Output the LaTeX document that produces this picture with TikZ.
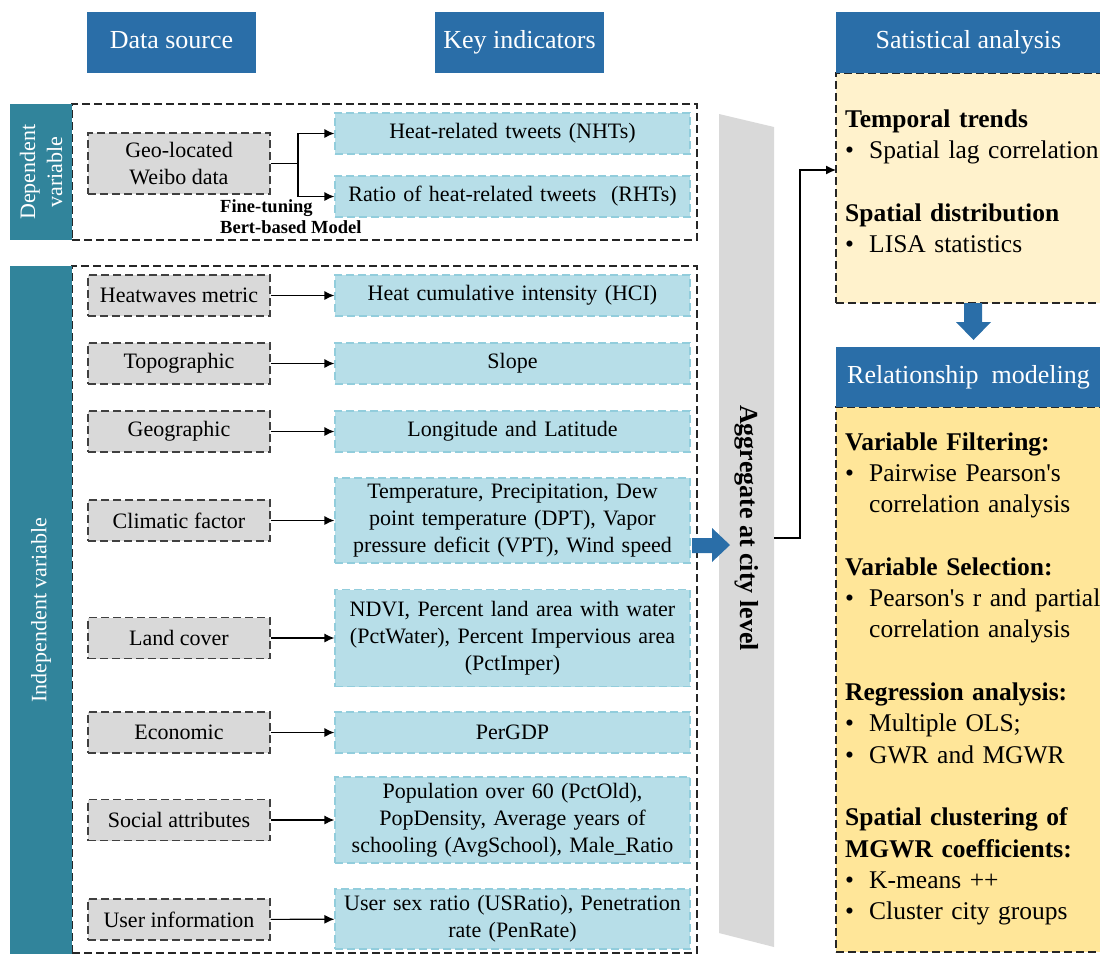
\documentclass[tikz,border=0pt]{standalone}
\usepackage{fontspec}
\setmainfont{Liberation Serif}
\usetikzlibrary{arrows.meta}

\definecolor{hdrblue}{RGB}{42,110,168}
\definecolor{barteal}{RGB}{49,132,155}
\definecolor{indblue}{RGB}{183,222,232}
\definecolor{indline}{RGB}{146,205,220}
\definecolor{srcgray}{RGB}{217,217,217}
\definecolor{paleyellow}{RGB}{255,242,204}
\definecolor{deepyellow}{RGB}{255,230,153}

\newcommand{\blt}{\par\noindent\makebox[24pt][l]{\textbullet}}
\newcommand{\cont}{\\\hspace*{24pt}}

\tikzset{
  hdr/.style={fill=hdrblue, text=white, font=\fontsize{26}{31}\selectfont, minimum height=61pt, inner sep=0pt, text height=18pt, text depth=6pt},
  src/.style={draw=black!75, dash pattern=on 8pt off 4pt, fill=srcgray, line width=1.2pt, minimum width=182pt, minimum height=41pt, font=\fontsize{22}{27}\selectfont, align=center, inner sep=0pt},
  ind/.style={draw=indline, dash pattern=on 8pt off 4pt, fill=indblue, line width=1.2pt, minimum width=355pt, minimum height=41pt, font=\fontsize{22}{27}\selectfont, align=center, text width=350pt, inner sep=0pt},
  frame/.style={draw=black!85, dash pattern=on 8pt off 4pt, line width=1.2pt, inner sep=0pt},
  vbar/.style={fill=barteal, text=white, font=\fontsize{22}{27}\selectfont, align=center, inner sep=0pt},
  blocktext/.style={anchor=north west, text width=300pt, inner sep=0pt, font=\fontsize{25.5}{31.3}\selectfont},
  link/.style={-{Latex[length=10pt,width=9pt]}, line width=1.2pt},
}

\begin{document}
\begin{tikzpicture}[x=1pt, y=-1pt]
	\useasboundingbox (0,0) rectangle (1100,954);

	% column headers
	\node[hdr, minimum width=169pt] (srchdr) at (171.5,42.5) {Data source};
	\node[hdr, minimum width=169pt] (keyhdr) at (519.5,42.5) {Key indicators};

	% dependent variable
	\node[frame, minimum width=625pt, minimum height=136pt] (depframe) at (384.5,172) {};
	\node[vbar, rotate=90, minimum width=136pt, minimum height=62pt] (depbar) at (41,172) {Dependent\\variable};
	\node[src, minimum height=61pt] (weibo) at (179,163.5) {Geo-located\\Weibo data};
	\node[ind] (nht) at (512.5,133.5) {Heat-related tweets (NHTs)};
	\node[ind] (rht) at (512.5,196.5) {Ratio of heat-related tweets\ \ (RHTs)};
	\node[anchor=north west, align=left, inner sep=0pt, font=\bfseries\fontsize{18.5}{21}\selectfont] (bert) at (220,197.3) {\strut Fine-tuning\\Bert-based Model};
	\coordinate (split) at (298,163.5);
	\draw[line width=1.2pt] (weibo) -- (split);
	\draw[link] (split) |- (nht);
	\draw[link] (split) |- (rht);

	% independent variable
	\node[frame, minimum width=625pt, minimum height=687pt] (indframe) at (384.5,609.5) {};
	\node[vbar, rotate=90, minimum width=688pt, minimum height=62pt] (indbar) at (41,610) {Independent variable};

	\node[src] (heat) at (179,295.5) {Heatwaves metric};
	\node[ind] (hci) at (512.5,295.5) {Heat cumulative intensity (HCI)};
	\node[src] (topo) at (179,363.5) {Topographic};
	\node[ind] (slope) at (512.5,363.5) {Slope};
	\node[src] (geo) at (179,431.5) {Geographic};
	\node[ind] (lonlat) at (512.5,431.5) {Longitude and Latitude};
	\node[src] (clim) at (179,520.5) {Climatic factor};
	\node[ind, minimum height=85pt] (climvar) at (512.5,520.5) {Temperature, Precipitation, Dew\\point temperature (DPT), Vapor\\pressure deficit (VPT), Wind speed};
	\node[src] (land) at (179,638) {Land cover};
	\node[ind, minimum height=97pt] (landvar) at (512.5,638) {NDVI, Percent land area with water\\(PctWater), Percent Impervious area\\(PctImper)};
	\node[src] (econ) at (179,732.5) {Economic};
	\node[ind] (gdp) at (512.5,732.5) {PerGDP};
	\node[src] (social) at (179,820) {Social attributes};
	\node[ind, minimum height=86pt] (socvar) at (512.5,820) {Population over 60 (PctOld),\\PopDensity, Average years of\\schooling (AvgSchool), Male\_Ratio};
	\node[src] (user) at (179,919.5) {User information};
	\node[ind, minimum height=60pt] (uservar) at (512.5,919) {User sex ratio (USRatio), Penetration\\rate (PenRate)};

	\foreach \a/\b in {heat/hci, topo/slope, geo/lonlat, clim/climvar, land/landvar, econ/gdp, social/socvar, user/uservar}
		\draw[link] (\a) -- (\b);

	% aggregation band
	\fill[srcgray] (719,114) -- (774,127) -- (774,947) -- (719,933) -- cycle;
	\node[rotate=-90, inner sep=0pt, font=\bfseries\fontsize{26}{31}\selectfont] (aggr) at (746.5,528) {Aggregate at city level};
	\fill[hdrblue] (692,538) -- (712,538) -- (712,528) -- (730,545) -- (712,562) -- (712,553) -- (692,553) -- cycle;

	% analysis panels
	\node[frame, fill=paleyellow, minimum width=265pt, minimum height=230pt] (statbox) at (968.5,188) {};
	\node[frame, fill=deepyellow, minimum width=265pt, minimum height=545pt] (relbox) at (968.5,679.5) {};
	\node[hdr, minimum width=265pt] (stathdr) at (968.5,42.5) {Satistical analysis};
	\node[hdr, minimum width=265pt, minimum height=60pt] (relhdr) at (968.5,377) {Relationship\ \ modeling};
	\fill[hdrblue] (964,303) -- (982,303) -- (982,322) -- (991,322) -- (973.5,340) -- (956,322) -- (964,322) -- cycle;

	\node[blocktext] (stattext) at (845,105) {\strut\textbf{Temporal trends}\blt Spatial lag correlation\par\vspace{31.3pt}\noindent\textbf{Spatial distribution}\blt LISA statistics};
	\node[blocktext] (reltext) at (845,428) {\strut\textbf{Variable Filtering:}\blt Pairwise Pearson\textquotesingle s\cont correlation analysis\par\vspace{31.3pt}\noindent\textbf{Variable Selection:}\blt Pearson\textquotesingle s r and partial\cont correlation analysis\par\vspace{31.3pt}\noindent\textbf{Regression analysis:}\blt Multiple OLS;\blt GWR and MGWR\par\vspace{31.3pt}\noindent\textbf{Spatial clustering of\\MGWR coefficients:}\blt K-means ++\blt Cluster city groups};

	\coordinate (bandout) at (774,538);
	\coordinate (statin) at (836,170);
	\draw[link] (bandout) -- ++(26,0) |- (statin);
\end{tikzpicture}
\end{document}
